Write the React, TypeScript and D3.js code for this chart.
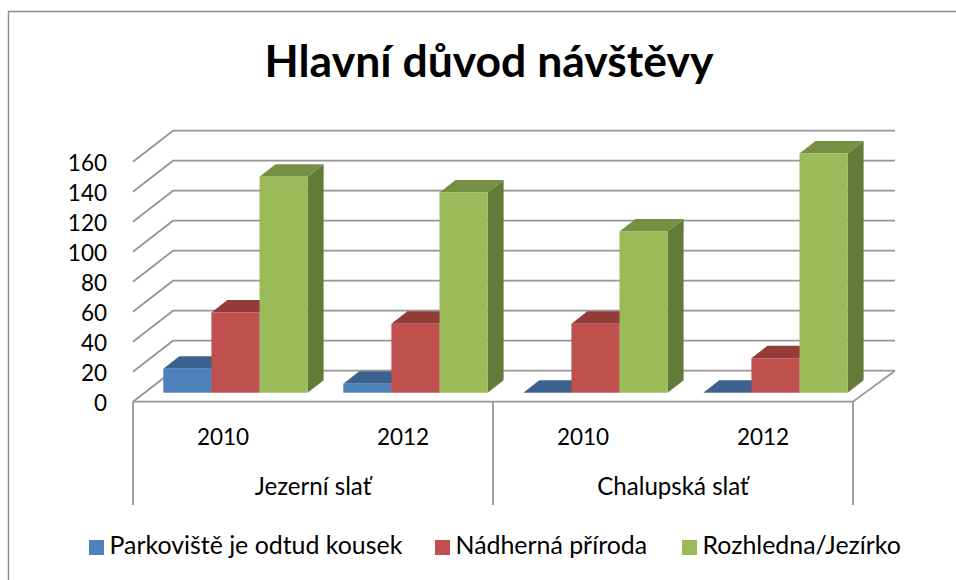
import React from "react";
import * as d3 from "d3";

const title = "Hlavní důvod návštěvy";
const groups = ["Jezerní slať", "Chalupská slať"];
const years = ["2010", "2012", "2010", "2012"];
const yTicks = [0, 20, 40, 60, 80, 100, 120, 140, 160];
const seriesNames = ["Parkoviště je odtud kousek", "Nádherná příroda", "Rozhledna/Jezírko"];
const parkoviste = [16, 6, 0, 0];
const priroda = [53.5, 46, 46, 23];
const rozhledna = [144, 133.5, 107.5, 159.5];
const seriesValues = [parkoviste, priroda, rozhledna];
const front = ["#4f81bd", "#c0504d", "#9bbb59"];
const topC = ["#3c6290", "#933c3a", "#769043"];
const side = ["#335479", "#7d3331", "#647a39"];

const FONT = "Lato, 'Open Sans', sans-serif";
const GRID = "#969696";

// depth of the floor
const DX = 40, DY = -31;
const BDX = 16, BDY = -12.4;

export default function App() {
  const yAxis = d3.scaleLinear().domain([0, 160]).range([401.7, 161.7]);
  const yBar = d3.scaleLinear().domain([0, 160]).range([392.7, 152.7]);
  const xCat = d3.scaleBand().domain(d3.range(4).map(String)).range([133, 853]);
  const xSer = d3.scaleBand().domain(d3.range(3).map(String)).range([0, 144.3]);
  const x0 = 133, x1 = 853, yFloor = yAxis(0);
  const poly = (pts: number[][]) => pts.map((p) => p.join(",")).join(" ");

  return (
    <svg width={956} height={580} style={{ position: "absolute", left: 0, top: 0, background: "#fff" }} fontFamily={FONT}>
      <path d="M8.5,580 V11.5 H956" fill="none" stroke="#8c8c8c" strokeWidth={1.4} />
      <text x={489} y={77} textAnchor="middle" fontSize={44.5} fontWeight={700} fill="#000">{title}</text>

      {yTicks.map((t) => (
        <g key={t}>
          <polyline
            points={poly([[x0, yAxis(t)], [x0 + DX, yAxis(t) + DY], [x1 + DX + 2, yAxis(t) + DY]])}
            fill="none"
            stroke={GRID}
            strokeWidth={1.8}
          />
          <text x={107} y={yAxis(t) + 9.5} textAnchor="end" fontSize={22.5} fill="#000">{t}</text>
        </g>
      ))}

      {/* floor */}
      <polyline points={poly([[x0, yFloor], [x1, yFloor], [x1 + DX + 2, yFloor + DY]])} fill="none" stroke={GRID} strokeWidth={1.8} />
      {[x0, xCat("2")!, x1].map((x, i) => (
        <line key={i} x1={x} x2={x} y1={yFloor} y2={505} stroke={GRID} strokeWidth={1.8} />
      ))}

      {/* bars */}
      {years.map((_, c) => (
        <g key={c}>
          {seriesValues.map((vals, s) => {
            const x = xCat(String(c))! + 30.3 + xSer(String(s))!;
            const w = xSer.bandwidth();
            const yt = yBar(vals[c]);
            const yb = yBar(0);
            return (
              <g key={s}>
                <polygon points={poly([[x + w, yt], [x + w + BDX, yt + BDY], [x + w + BDX, yb + BDY], [x + w, yb]])} fill={side[s]} />
                <polygon points={poly([[x, yt], [x + BDX, yt + BDY], [x + w + BDX, yt + BDY], [x + w, yt]])} fill={topC[s]} />
                <rect x={x} y={yt} width={w} height={yb - yt} fill={front[s]} />
              </g>
            );
          })}
        </g>
      ))}

      {years.map((y, c) => (
        <text key={c} x={xCat(String(c))! + xCat.bandwidth() / 2} y={445} textAnchor="middle" fontSize={22.5} fill="#000">{y}</text>
      ))}
      {groups.map((g, i) => (
        <text key={g} x={xCat(String(i * 2))! + xCat.bandwidth()} y={495} textAnchor="middle" fontSize={24.1} fill="#000">{g}</text>
      ))}

      {/* legend */}
      {seriesNames.map((n, i) => {
        const lx = [89, 435, 682][i];
        return (
          <g key={n}>
            <rect x={lx} y={540} width={15} height={15} fill={front[i]} />
            <text x={lx + 20.5} y={554} fontSize={24.9} fill="#000">{n}</text>
          </g>
        );
      })}
    </svg>
  );
}
